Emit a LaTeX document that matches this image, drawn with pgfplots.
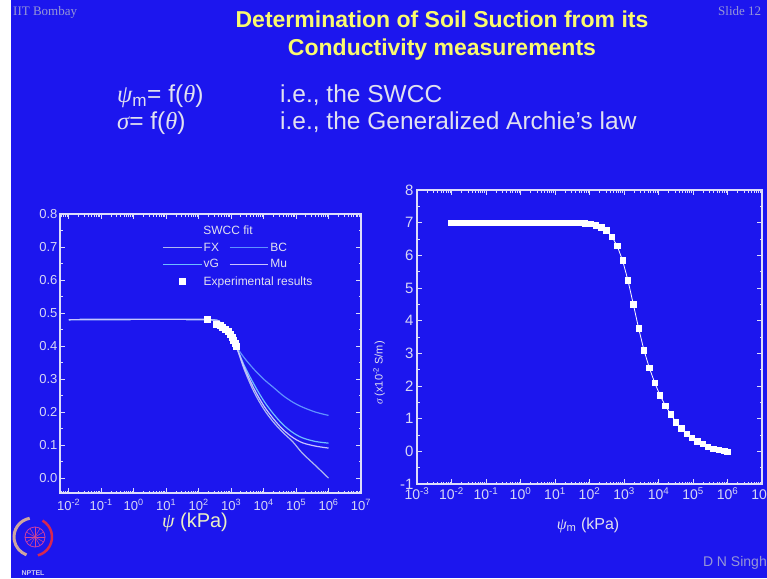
\documentclass[border=0pt]{standalone}
\usepackage{fontspec}
\setmainfont{Liberation Sans}
\newfontfamily\grk{Liberation Serif}
\usepackage{pgfplots}
\pgfplotsset{compat=1.18}
\definecolor{slideblue}{RGB}{28,22,238}
\definecolor{axiscol}{RGB}{220,220,250}
\definecolor{ticklab}{RGB}{215,215,245}
\definecolor{titleyellow}{RGB}{250,250,110}
\definecolor{bodytext}{RGB}{225,225,240}
\definecolor{greytext}{RGB}{150,150,215}
\definecolor{kpayellow}{RGB}{235,240,195}
\definecolor{cFX}{RGB}{175,185,240}
\definecolor{cBC}{RGB}{95,145,255}
\definecolor{cvG}{RGB}{110,190,255}
\definecolor{cMu}{RGB}{200,195,255}
\newcommand\fs[2]{\fontsize{#1}{#2}\selectfont}
\def\logminors{-2.699,-2.523,-2.398,-2.301,-2.222,-2.155,-2.097,-2.046,-1.699,-1.523,-1.398,-1.301,-1.222,-1.155,-1.097,-1.046,-0.699,-0.523,-0.398,-0.301,-0.222,-0.155,-0.097,-0.046,0.301,0.477,0.602,0.699,0.778,0.845,0.903,0.954,1.301,1.477,1.602,1.699,1.778,1.845,1.903,1.954,2.301,2.477,2.602,2.699,2.778,2.845,2.903,2.954,3.301,3.477,3.602,3.699,3.778,3.845,3.903,3.954,4.301,4.477,4.602,4.699,4.778,4.845,4.903,4.954,5.301,5.477,5.602,5.699,5.778,5.845,5.903,5.954,6.301,6.477,6.602,6.699,6.778,6.845,6.903,6.954}
\pgfplotsset{
  slideaxis/.style={
    scale only axis,
    axis line style={draw=axiscol, line width=1.3pt},
    every tick/.style={axiscol, line width=0.8pt},
    major tick length=5pt, minor tick length=2.5pt,
    tick align=inside,
    minor xtick=\logminors,
    minor y tick num=1,
    xtick={-3,...,7},
    xticklabels={10\textsuperscript{-3},10\textsuperscript{-2},10\textsuperscript{-1},10\textsuperscript{0},10\textsuperscript{1},10\textsuperscript{2},10\textsuperscript{3},10\textsuperscript{4},10\textsuperscript{5},10\textsuperscript{6},10\textsuperscript{7}},
    /pgf/number format/assume math mode=true,
    ticklabel style={text=ticklab},
  }
}
\begin{document}
\begin{tikzpicture}[x=1pt,y=1pt]
\fill[slideblue] (0,0) rectangle (767,578);
\fill[white] (0,0) rectangle (11,578);
% header texts
\node[anchor=base west, font=\grk\fs{13}{15}, text=greytext, inner sep=0pt] at (13,562) {IIT Bombay};
\node[anchor=base west, font=\grk\fs{13}{15}, text=greytext, inner sep=0pt] at (718,562) {Slide 12};
\node[align=center, font=\bfseries\fs{23}{28}, text=titleyellow] at (442,542) {Determination of Soil Suction from its\\Conductivity measurements};
\node[anchor=base west, font=\fs{24.5}{28}, text=bodytext, inner sep=0pt] at (117,475) {{\grk\itshape ψ}\textsubscript{m}= f({\grk\itshape θ})};
\node[anchor=base west, font=\fs{24.5}{28}, text=bodytext, inner sep=0pt] at (280,475) {i.e., the SWCC};
\node[anchor=base west, font=\fs{24.5}{28}, text=bodytext, inner sep=0pt] at (117,448) {{\grk\itshape σ}= f({\grk\itshape θ})};
\node[anchor=base west, font=\fs{24.5}{28}, text=bodytext, inner sep=0pt] at (280,448) {i.e., the Generalized Archie's law};
\node[anchor=base east, font=\fs{14}{16}, text=greytext, inner sep=0pt] at (767,12) {D N Singh};
% NPTEL logo
\draw[line width=3pt, color={rgb,255:red,205;green,165;blue,160}] (33,41) ++(100:19) arc (100:250:19);
\draw[line width=2.5pt, color={rgb,255:red,215;green,40;blue,80}] (33,41) ++(-75:19) arc (-75:60:19);
\draw[line width=0.8pt, color={rgb,255:red,200;green,60;blue,170}] (35,41) circle (10);
\foreach \a in {0,30,...,330} \draw[line width=0.5pt, color={rgb,255:red,210;green,70;blue,150}] (35,41) -- ++(\a:10);
\node[font=\bfseries\fs{7}{8}, text={rgb,255:red,200;green,200;blue,240}, inner sep=0pt] at (33,5) {NPTEL};

% ---------------- left axis ----------------
\begin{axis}[slideaxis,
  at={(60pt,85pt)}, anchor=south west,
  width=301pt, height=279pt,
  xmin=-2.27, xmax=7, ymin=-0.045, ymax=0.8,
  ytick={0,0.1,...,0.8},
  yticklabel style={font=\fs{13}{15}, xshift=1pt, /pgf/number format/.cd, fixed, fixed zerofill, precision=1},
  xticklabel style={font=\fs{13}{15}, yshift=-3pt},
  legend style={draw=none, fill=none, at={(0.34,0.905)}, anchor=north west,
    font=\fs{12}{14}, text=bodytext, inner sep=0pt, row sep=3pt,
    /tikz/every even column/.append style={column sep=8pt}},
  legend columns=2, legend cell align=left,
  legend image code/.code={\draw[mark repeat=2,mark phase=2,#1] plot coordinates {(0pt,0pt) (19pt,0pt) (38pt,0pt)};},
]
\addplot[cFX, line width=1.2pt, smooth] coordinates {(-2,0.48) (2.27,0.48) (2.6,0.465) (2.9,0.44) (3.15,0.40) (3.4,0.33) (3.7,0.262) (4.0,0.21) (4.3,0.17) (4.6,0.138) (4.9,0.11) (5.2,0.075) (5.6,0.038) (6.0,0.0)};
\addlegendentry{FX}
\addplot[cBC, line width=1.2pt, smooth] coordinates {(-2,0.48) (2.27,0.48) (2.6,0.465) (2.9,0.44) (3.15,0.40) (3.4,0.365) (3.7,0.33) (4.0,0.30) (4.3,0.275) (4.6,0.25) (4.9,0.23) (5.2,0.215) (5.6,0.20) (6.0,0.19)};
\addlegendentry{BC}
\addplot[cvG, line width=1.2pt, smooth] coordinates {(-2,0.48) (2.27,0.48) (2.6,0.465) (2.9,0.44) (3.15,0.40) (3.4,0.342) (3.7,0.285) (4.0,0.235) (4.3,0.195) (4.6,0.162) (4.9,0.138) (5.2,0.122) (5.6,0.111) (6.0,0.106)};
\addlegendentry{vG}
\addplot[cMu, line width=1.2pt, smooth] coordinates {(-2,0.48) (2.27,0.48) (2.6,0.465) (2.9,0.44) (3.15,0.40) (3.4,0.336) (3.7,0.272) (4.0,0.22) (4.3,0.18) (4.6,0.147) (4.9,0.123) (5.2,0.107) (5.6,0.097) (6.0,0.091)};
\addlegendentry{Mu}
\addplot[only marks, mark=square*, mark size=3pt, mark options={fill=white, draw=white}] coordinates {(2.27,0.48) (2.55,0.465) (2.65,0.462) (2.74,0.458) (2.82,0.452) (2.9,0.445) (2.96,0.436) (3.02,0.426) (3.07,0.418) (3.12,0.41) (3.17,0.40)};
\addlegendentry{\makebox[0pt][l]{Experimental results}}
\end{axis}
\node[font=\fs{12}{14}, text=bodytext] at (228,348) {SWCC fit};
\node[font=\fs{20}{24}, text=kpayellow] at (195,56) {{\grk\itshape ψ} (kPa)};

% ---------------- right axis ----------------
\begin{axis}[slideaxis,
  at={(417pt,94pt)}, anchor=south west,
  width=345pt, height=294pt,
  xmin=-3, xmax=7, ymin=-1, ymax=8,
  ytick={-1,0,...,8},
  yticklabel style={font=\fs{15}{17}},
  xticklabel style={font=\fs{14}{16}},
]
\addplot[white, line width=0.8pt, mark=square*, mark size=2.7pt, mark options={fill=white, draw=white}] coordinates {
(-2.00,7.0) (-1.845,7.0) (-1.69,7.0) (-1.535,7.0) (-1.38,7.0) (-1.225,7.0) (-1.07,7.0) (-0.915,7.0) (-0.76,7.0) (-0.605,7.0) (-0.45,7.0) (-0.295,7.0) (-0.14,7.0) (0.015,7.0) (0.17,7.0) (0.325,7.0) (0.48,7.0) (0.635,7.0) (0.79,7.0) (0.945,7.0) (1.10,7.0) (1.255,7.0) (1.41,7.0) (1.565,6.995) (1.72,6.99) (1.875,6.98) (2.03,6.96) (2.185,6.92) (2.34,6.86)
(2.495,6.76) (2.65,6.57) (2.805,6.28) (2.96,5.84) (3.115,5.23) (3.27,4.50) (3.425,3.76) (3.58,3.09) (3.735,2.55) (3.89,2.10) (4.045,1.71) (4.20,1.40) (4.355,1.13) (4.51,0.89) (4.665,0.70) (4.82,0.53) (4.975,0.42) (5.13,0.31) (5.285,0.22) (5.44,0.14) (5.595,0.08) (5.75,0.04) (5.905,0.01) (6.0,-0.01)};
\end{axis}
\node[font=\fs{16}{18}, text=bodytext] at (588,53) {{\grk\itshape ψ}\textsubscript{m} (kPa)};
\node[font=\fs{11}{13}, text=bodytext, rotate=90] at (379,205) {{\grk\itshape σ} (x10\textsuperscript{-2} S/m)};
\pgfresetboundingbox
\path[use as bounding box] (0,0) rectangle (767,578);
\end{tikzpicture}
\end{document}
